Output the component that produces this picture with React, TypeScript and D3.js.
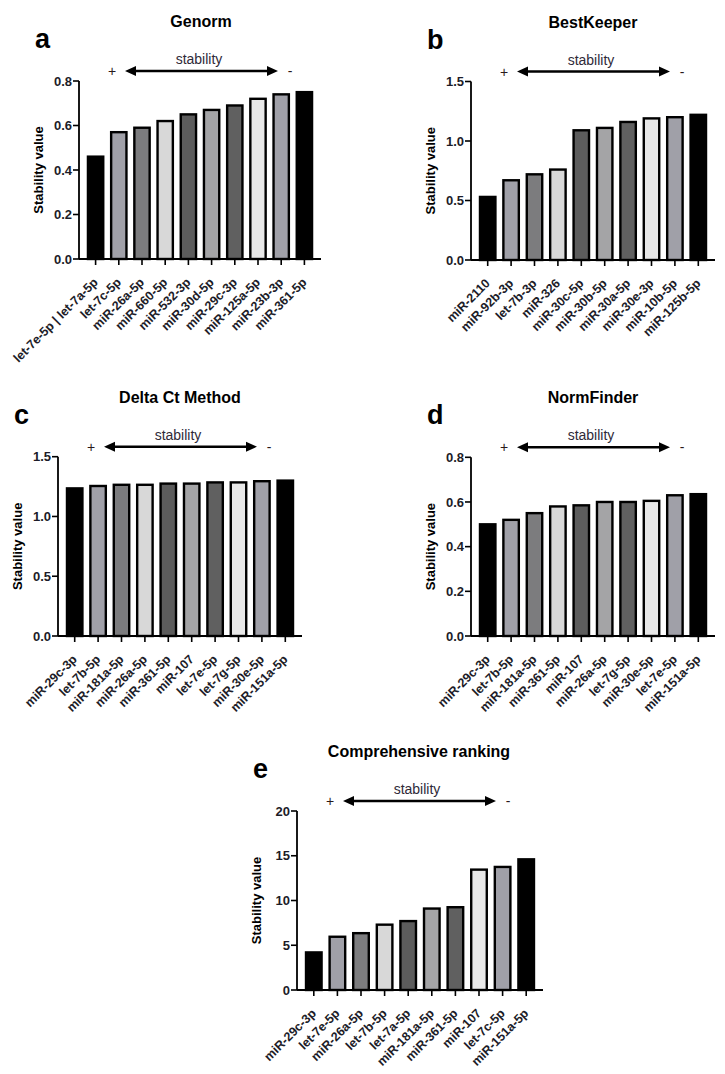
import React from "react";
import * as d3 from "d3";

// ---------- data ----------
const genormLabels = ["let-7e-5p | let-7a-5p", "let-7c-5p", "miR-26a-5p", "miR-660-5p", "miR-532-3p", "miR-30d-5p", "miR-29c-3p", "miR-125a-5p", "miR-23b-3p", "miR-361-5p"];
const genormValues = [0.46, 0.57, 0.59, 0.62, 0.65, 0.67, 0.69, 0.72, 0.74, 0.75];

const bestKeeperLabels = ["miR-2110", "miR-92b-3p", "let-7b-3p", "miR-326", "miR-30c-5p", "miR-30b-5p", "miR-30a-5p", "miR-30e-3p", "miR-10b-5p", "miR-125b-5p"];
const bestKeeperValues = [0.53, 0.67, 0.72, 0.76, 1.09, 1.11, 1.16, 1.19, 1.2, 1.22];

const deltaCtLabels = ["miR-29c-3p", "let-7b-5p", "miR-181a-5p", "miR-26a-5p", "miR-361-5p", "miR-107", "let-7e-5p", "let-7g-5p", "miR-30e-5p", "miR-151a-5p"];
const deltaCtValues = [1.235, 1.255, 1.265, 1.265, 1.275, 1.275, 1.285, 1.285, 1.295, 1.3];

const normFinderLabels = ["miR-29c-3p", "let-7b-5p", "miR-181a-5p", "miR-361-5p", "miR-107", "miR-26a-5p", "let-7g-5p", "miR-30e-5p", "let-7e-5p", "miR-151a-5p"];
const normFinderValues = [0.5, 0.52, 0.55, 0.58, 0.585, 0.6, 0.6, 0.605, 0.63, 0.635];

const comprehensiveLabels = ["miR-29c-3p", "let-7e-5p", "miR-26a-5p", "let-7b-5p", "let-7a-5p", "miR-181a-5p", "miR-361-5p", "miR-107", "let-7c-5p", "miR-151a-5p"];
const comprehensiveValues = [4.2, 5.95, 6.35, 7.3, 7.7, 9.1, 9.25, 13.45, 13.75, 14.6];

const ticks08 = [0, 0.2, 0.4, 0.6, 0.8];
const ticks15 = [0, 0.5, 1.0, 1.5];
const ticks20 = [0, 5, 10, 15, 20];

const barFills = ["#000000", "#a0a0a8", "#7c7c7e", "#d8d8d8", "#5c5c5c", "#a4a4a6", "#606060", "#e8e8e8", "#a0a0a8", "#000000"];

// ---------- layout ----------
const FONT = "'Liberation Sans', Arial, Helvetica, sans-serif";

type PanelProps = {
  letter: string;
  title: string;
  labels: string[];
  values: number[];
  ticks: number[];
  fmt: (v: number) => string;
  axisX: number;
  axisEnd: number;
  yTop: number;
  yZero: number;
};

function Panel(p: PanelProps) {
  const max = p.ticks[p.ticks.length - 1];
  const y = d3.scaleLinear().domain([0, max]).range([p.yZero, p.yTop]);
  const x = d3
    .scaleBand<string>()
    .domain(p.labels)
    .range([p.axisX + 5, p.axisEnd - 5])
    .paddingInner(0.34)
    .paddingOuter(0.17);
  const bw = x.bandwidth();
  const ax = p.axisX;
  const arrowY = p.yTop - 10;
  const aL = ax + 46;
  const aR = ax + 199;
  const head = 11;
  const hh = 5;
  const arrowPath = d3.path();
  arrowPath.moveTo(aL, arrowY);
  arrowPath.lineTo(aL + head, arrowY - hh);
  arrowPath.lineTo(aL + head, arrowY + hh);
  arrowPath.closePath();
  arrowPath.moveTo(aR, arrowY);
  arrowPath.lineTo(aR - head, arrowY - hh);
  arrowPath.lineTo(aR - head, arrowY + hh);
  arrowPath.closePath();

  return (
    <g fontFamily={FONT}>
      <text x={ax + 122} y={p.yTop - 54} textAnchor="middle" fontSize={16} fontWeight="bold" fill="#000">
        {p.title}
      </text>
      <text x={ax - 44} y={p.yTop - 33} fontSize={27} fontWeight="bold" fill="#000">
        {p.letter}
      </text>
      <text x={ax + 120} y={p.yTop - 17} textAnchor="middle" fontSize={14} fill="#2f2a38">
        stability
      </text>
      <text x={ax + 33} y={arrowY + 5} textAnchor="middle" fontSize={14} fill="#2a1a1a">
        +
      </text>
      <text x={ax + 211} y={arrowY + 5} textAnchor="middle" fontSize={14} fill="#2a1a1a">
        -
      </text>
      <line x1={aL + 5} x2={aR - 5} y1={arrowY} y2={arrowY} stroke="#000" strokeWidth={2.6} />
      <path d={arrowPath.toString()} fill="#000" />

      {/* bars */}
      {p.values.map((v, i) => (
        <rect
          key={i}
          x={(x(p.labels[i]) as number)}
          y={y(v)}
          width={bw}
          height={p.yZero - y(v)}
          fill={barFills[i]}
          stroke="#000"
          strokeWidth={2.4}
        />
      ))}

      {/* y axis */}
      <line x1={ax} x2={ax} y1={p.yTop} y2={p.yZero} stroke="#000" strokeWidth={1.8} />
      {p.ticks.map((t) => (
        <g key={t}>
          <line x1={ax - 6} x2={ax} y1={y(t)} y2={y(t)} stroke="#000" strokeWidth={1.6} />
          <text x={ax - 7} y={y(t)} dy="0.36em" textAnchor="end" fontSize={13} fontWeight="bold" fill="#1c1c28">
            {p.fmt(t)}
          </text>
        </g>
      ))}
      <text
        transform={`translate(${ax - 36},${(p.yTop + p.yZero) / 2}) rotate(-90)`}
        textAnchor="middle"
        fontSize={13}
        fontWeight="bold"
        fill="#000"
      >
        Stability value
      </text>

      {/* x axis */}
      <line x1={ax} x2={p.axisEnd} y1={p.yZero} y2={p.yZero} stroke="#000" strokeWidth={1.8} />
      {p.labels.map((l) => {
        const cx = (x(l) as number) + bw / 2;
        return (
          <g key={l}>
            <line x1={cx} x2={cx} y1={p.yZero} y2={p.yZero + 6} stroke="#000" strokeWidth={1.6} />
            <text
              transform={`translate(${cx + 3},${p.yZero + 24}) rotate(-45)`}
              textAnchor="end"
              fontSize={12.5}
              fontWeight="bold"
              fill="#1c1c28"
            >
              {l}
            </text>
          </g>
        );
      })}
    </g>
  );
}

const f1 = d3.format(".1f");
const f0 = d3.format("d");

export default function App() {
  return (
    <svg width={725} height={1074} style={{ position: "absolute", left: 0, top: 0, background: "#fff" }}>
      <rect width={725} height={1074} fill="#fff" />
      <Panel letter="a" title="Genorm" labels={genormLabels} values={genormValues} ticks={ticks08} fmt={f1}
        axisX={79} axisEnd={321} yTop={81} yZero={259} />
      <Panel letter="b" title="BestKeeper" labels={bestKeeperLabels} values={bestKeeperValues} ticks={ticks15} fmt={f1}
        axisX={471} axisEnd={715} yTop={81.5} yZero={260} />
      <Panel letter="c" title="Delta Ct Method" labels={deltaCtLabels} values={deltaCtValues} ticks={ticks15} fmt={f1}
        axisX={58} axisEnd={302} yTop={456.7} yZero={636} />
      <Panel letter="d" title="NormFinder" labels={normFinderLabels} values={normFinderValues} ticks={ticks08} fmt={f1}
        axisX={471} axisEnd={715} yTop={457.3} yZero={636} />
      <Panel letter="e" title="Comprehensive ranking" labels={comprehensiveLabels} values={comprehensiveValues} ticks={ticks20} fmt={f0}
        axisX={297} axisEnd={543} yTop={811} yZero={990} />
    </svg>
  );
}
